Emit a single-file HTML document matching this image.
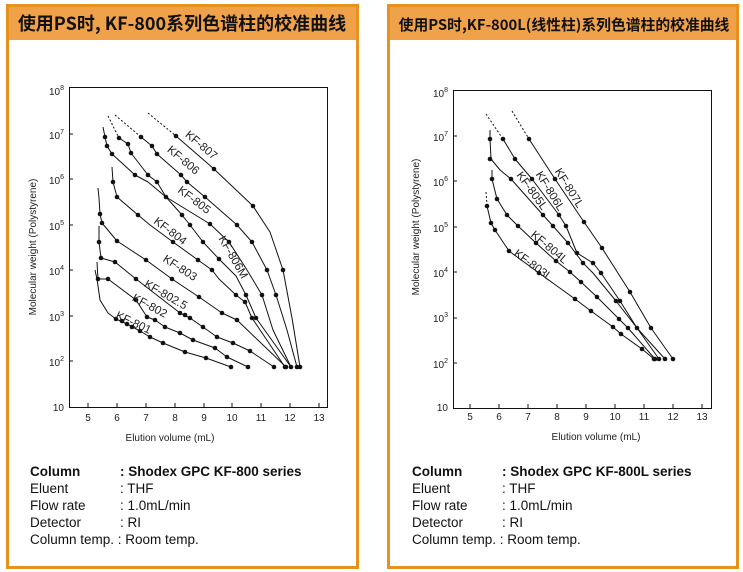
<!DOCTYPE html>
<html><head><meta charset="utf-8"><style>
html,body{margin:0;padding:0;background:#fff;}
svg{display:block;font-family:"Liberation Sans","Noto Sans CJK SC",sans-serif;}
</style></head><body>
<svg width="743" height="572" viewBox="0 0 743 572" xmlns="http://www.w3.org/2000/svg">
<defs><style>
.c{fill:none;stroke:#111;stroke-width:1;stroke-linejoin:round;}
.d{fill:none;stroke:#111;stroke-width:1;stroke-dasharray:2,2;}
.t{font-size:10px;fill:#222;}
.lb{font-size:11.5px;fill:#222;}
.tx{font-size:13.5px;fill:#111;}
</style></defs>
<!-- panels -->
<rect x="7.5" y="5.5" width="350" height="562" fill="#fff" stroke="#e8921e" stroke-width="3"/>
<rect x="9" y="7" width="347" height="33" fill="#f0a24a"/>
<text x="182" y="30" text-anchor="middle" font-size="18" font-weight="bold" fill="#111" font-family="'Noto Sans CJK SC','Liberation Sans',sans-serif">使用PS时, KF-800系列色谱柱的校准曲线</text>
<rect x="388.5" y="5.5" width="349" height="562" fill="#fff" stroke="#e8921e" stroke-width="3"/>
<rect x="390" y="7" width="346" height="33" fill="#f0a24a"/>
<text x="564" y="30" text-anchor="middle" font-size="14.8" font-weight="bold" fill="#111" font-family="'Noto Sans CJK SC','Liberation Sans',sans-serif">使用PS时,KF-800L(线性柱)系列色谱柱的校准曲线</text>

<!-- LEFT PLOT -->
<rect x="69.5" y="87.5" width="258" height="320" fill="none" stroke="#111" stroke-width="1"/>
<g class="t" text-anchor="end">
<text x="64" y="95">10<tspan font-size="7" dy="-5">8</tspan></text>
<text x="64" y="139">10<tspan font-size="7" dy="-5">7</tspan></text>
<text x="64" y="184">10<tspan font-size="7" dy="-5">6</tspan></text>
<text x="64" y="230">10<tspan font-size="7" dy="-5">5</tspan></text>
<text x="64" y="275">10<tspan font-size="7" dy="-5">4</tspan></text>
<text x="64" y="321">10<tspan font-size="7" dy="-5">3</tspan></text>
<text x="64" y="366">10<tspan font-size="7" dy="-5">2</tspan></text>
<text x="64" y="411">10</text>
</g>
<g stroke="#111">
<line x1="69" y1="134" x2="73" y2="134"/><line x1="69" y1="179" x2="73" y2="179"/><line x1="69" y1="225" x2="73" y2="225"/><line x1="69" y1="270" x2="73" y2="270"/><line x1="69" y1="316" x2="73" y2="316"/><line x1="69" y1="361" x2="73" y2="361"/>
<line x1="88" y1="407" x2="88" y2="403"/><line x1="117" y1="407" x2="117" y2="403"/><line x1="146" y1="407" x2="146" y2="403"/><line x1="175" y1="407" x2="175" y2="403"/><line x1="204" y1="407" x2="204" y2="403"/><line x1="232" y1="407" x2="232" y2="403"/><line x1="261" y1="407" x2="261" y2="403"/><line x1="290" y1="407" x2="290" y2="403"/><line x1="319" y1="407" x2="319" y2="403"/>
</g>
<g class="t" text-anchor="middle">
<text x="88" y="421">5</text><text x="117" y="421">6</text><text x="146" y="421">7</text><text x="175" y="421">8</text><text x="204" y="421">9</text><text x="232" y="421">10</text><text x="261" y="421">11</text><text x="290" y="421">12</text><text x="319" y="421">13</text>
<text x="170" y="441">Elution volume (mL)</text>
<text transform="translate(36,247) rotate(-90)">Molecular weight (Polystyrene)</text>
</g>
<g>
<path class="d" d="M148,113 L176,136"/>
<path class="c" d="M176,136 L214,169 L253,206 L270,232 L283,270 L292,318 L300,367"/>
<path class="d" d="M115,115 L141,137"/>
<path class="c" d="M141,137 L152,146 L157,154 L181,175 L187,182 L205,197 L237,225 L252,242 L267,270 L276,295 L287,330 L297,367"/>
<path class="d" d="M108,116 L119,138"/>
<path class="c" d="M119,138 L128,144 L131,153 L148,175 L157,182 L166,197 L182,215 L190,225 L203,242 L219,259 L236,276 L246,295 L256,318 L291,367"/>
<path class="c" d="M103,127 L105,137 L107,146 L112,154 L135,175 L148,182 L166,197 L210,224 L229,242 L247,270 L262,295 L273,330 L291,367"/>
<path class="c" d="M112,167 L113,182 L117,197 L138,215 L150,225 L173,242 L198,260 L212,270 L219,279 L236,295 L245,302 L252,318 L285,367"/>
<path class="c" d="M98,188 L99,198 L100,214 L102,223 L117,241 L146,260 L172,279 L199,297 L222,313 L237,320 L286,367"/>
<path class="c" d="M99,226 L99,242 L101,258 L115,262 L136,279 L180,313 L190,318 L203,327 L217,337 L233,343 L250,351 L274,367"/>
<path class="c" d="M97,262 L98,279 L108,279 L136,300 L147,317 L155,320 L165,327 L180,333 L193,340 L215,348 L227,357 L248,367"/>
<path class="c" d="M95,270 L97,279 L100,300 L108,313 L116,319 L127,324 L140,331 L150,337 L163,343 L185,352 L206,358 L231,367"/>
</g>
<g fill="#111">
<circle cx="176" cy="136" r="2.3"/><circle cx="214" cy="169" r="2.3"/><circle cx="253" cy="206" r="2.3"/><circle cx="283" cy="270" r="2.3"/><circle cx="300" cy="367" r="2.3"/>
<circle cx="141" cy="137" r="2.3"/><circle cx="152" cy="146" r="2.3"/><circle cx="157" cy="154" r="2.3"/><circle cx="181" cy="175" r="2.3"/><circle cx="187" cy="182" r="2.3"/><circle cx="205" cy="197" r="2.3"/><circle cx="237" cy="225" r="2.3"/><circle cx="252" cy="242" r="2.3"/><circle cx="267" cy="270" r="2.3"/><circle cx="276" cy="295" r="2.3"/><circle cx="297" cy="367" r="2.3"/>
<circle cx="119" cy="138" r="2.3"/><circle cx="128" cy="144" r="2.3"/><circle cx="131" cy="153" r="2.3"/><circle cx="148" cy="175" r="2.3"/><circle cx="157" cy="182" r="2.3"/><circle cx="166" cy="197" r="2.3"/><circle cx="182" cy="215" r="2.3"/><circle cx="190" cy="225" r="2.3"/><circle cx="203" cy="242" r="2.3"/><circle cx="219" cy="259" r="2.3"/><circle cx="246" cy="295" r="2.3"/><circle cx="256" cy="318" r="2.3"/><circle cx="291" cy="367" r="2.3"/>
<circle cx="105" cy="137" r="2.3"/><circle cx="107" cy="146" r="2.3"/><circle cx="112" cy="154" r="2.3"/><circle cx="135" cy="175" r="2.3"/><circle cx="210" cy="224" r="2.3"/><circle cx="229" cy="242" r="2.3"/><circle cx="262" cy="295" r="2.3"/>
<circle cx="113" cy="182" r="2.3"/><circle cx="117" cy="197" r="2.3"/><circle cx="138" cy="215" r="2.3"/><circle cx="173" cy="242" r="2.3"/><circle cx="198" cy="260" r="2.3"/><circle cx="212" cy="270" r="2.3"/><circle cx="236" cy="295" r="2.3"/><circle cx="245" cy="302" r="2.3"/><circle cx="252" cy="318" r="2.3"/><circle cx="285" cy="367" r="2.3"/>
<circle cx="100" cy="214" r="2.3"/><circle cx="102" cy="223" r="2.3"/><circle cx="117" cy="241" r="2.3"/><circle cx="146" cy="260" r="2.3"/><circle cx="172" cy="279" r="2.3"/><circle cx="199" cy="297" r="2.3"/><circle cx="222" cy="313" r="2.3"/><circle cx="237" cy="320" r="2.3"/><circle cx="286" cy="367" r="2.3"/>
<circle cx="99" cy="242" r="2.3"/><circle cx="101" cy="258" r="2.3"/><circle cx="115" cy="262" r="2.3"/><circle cx="136" cy="279" r="2.3"/><circle cx="180" cy="313" r="2.3"/><circle cx="185" cy="315" r="2.3"/><circle cx="190" cy="318" r="2.3"/><circle cx="203" cy="327" r="2.3"/><circle cx="217" cy="337" r="2.3"/><circle cx="233" cy="343" r="2.3"/><circle cx="250" cy="351" r="2.3"/><circle cx="274" cy="367" r="2.3"/>
<circle cx="98" cy="279" r="2.3"/><circle cx="108" cy="279" r="2.3"/><circle cx="136" cy="300" r="2.3"/><circle cx="147" cy="317" r="2.3"/><circle cx="155" cy="320" r="2.3"/><circle cx="165" cy="327" r="2.3"/><circle cx="180" cy="333" r="2.3"/><circle cx="193" cy="340" r="2.3"/><circle cx="215" cy="348" r="2.3"/><circle cx="227" cy="357" r="2.3"/><circle cx="248" cy="367" r="2.3"/>
<circle cx="116" cy="319" r="2.3"/><circle cx="122" cy="321" r="2.3"/><circle cx="127" cy="324" r="2.3"/><circle cx="132" cy="327" r="2.3"/><circle cx="140" cy="331" r="2.3"/><circle cx="150" cy="337" r="2.3"/><circle cx="163" cy="343" r="2.3"/><circle cx="185" cy="352" r="2.3"/><circle cx="206" cy="358" r="2.3"/><circle cx="231" cy="367" r="2.3"/>
</g>
<g class="lb" text-anchor="middle">
<text transform="translate(199,148) rotate(40)">KF-807</text>
<text transform="translate(181,163) rotate(40)">KF-806</text>
<text transform="translate(192,203) rotate(37)">KF-805</text>
<text transform="translate(168,234) rotate(37)">KF-804</text>
<text transform="translate(230,259) rotate(60)">KF-806M</text>
<text transform="translate(178,271) rotate(33)">KF-803</text>
<text transform="translate(164,298) rotate(30)">KF-802.5</text>
<text transform="translate(148,309) rotate(28)">KF-802</text>
<text transform="translate(132,326) rotate(25)">KF-801</text>
</g>
<g class="tx">
<text x="30" y="476" font-weight="bold">Column</text><text x="120" y="476" font-weight="bold">: Shodex GPC KF-800 series</text>
<text x="30" y="493">Eluent</text><text x="120" y="493">: THF</text>
<text x="30" y="510">Flow rate</text><text x="120" y="510">: 1.0mL/min</text>
<text x="30" y="527">Detector</text><text x="120" y="527">: RI</text>
<text x="30" y="544">Column temp. : Room temp.</text>
</g>

<!-- RIGHT PLOT -->
<rect x="453.5" y="90.5" width="258" height="318" fill="none" stroke="#111" stroke-width="1"/>
<g class="t" text-anchor="end">
<text x="448" y="97">10<tspan font-size="7" dy="-5">8</tspan></text>
<text x="448" y="141">10<tspan font-size="7" dy="-5">7</tspan></text>
<text x="448" y="186">10<tspan font-size="7" dy="-5">6</tspan></text>
<text x="448" y="232">10<tspan font-size="7" dy="-5">5</tspan></text>
<text x="448" y="277">10<tspan font-size="7" dy="-5">4</tspan></text>
<text x="448" y="322">10<tspan font-size="7" dy="-5">3</tspan></text>
<text x="448" y="368">10<tspan font-size="7" dy="-5">2</tspan></text>
<text x="448" y="411">10</text>
</g>
<g stroke="#111">
<line x1="453" y1="136" x2="457" y2="136"/><line x1="453" y1="181" x2="457" y2="181"/><line x1="453" y1="227" x2="457" y2="227"/><line x1="453" y1="272" x2="457" y2="272"/><line x1="453" y1="318" x2="457" y2="318"/><line x1="453" y1="363" x2="457" y2="363"/>
<line x1="470" y1="408" x2="470" y2="404"/><line x1="499" y1="408" x2="499" y2="404"/><line x1="528" y1="408" x2="528" y2="404"/><line x1="557" y1="408" x2="557" y2="404"/><line x1="586" y1="408" x2="586" y2="404"/><line x1="615" y1="408" x2="615" y2="404"/><line x1="644" y1="408" x2="644" y2="404"/><line x1="673" y1="408" x2="673" y2="404"/><line x1="702" y1="408" x2="702" y2="404"/>
</g>
<g class="t" text-anchor="middle">
<text x="470" y="420">5</text><text x="499" y="420">6</text><text x="528" y="420">7</text><text x="557" y="420">8</text><text x="586" y="420">9</text><text x="615" y="420">10</text><text x="644" y="420">11</text><text x="673" y="420">12</text><text x="702" y="420">13</text>
<text x="596" y="440">Elution volume (mL)</text>
<text transform="translate(419,227) rotate(-90)">Molecular weight (Polystyrene)</text>
</g>
<g>
<path class="d" d="M512,111 L529,139"/>
<path class="c" d="M529,139 L555,179 L584,222 L602,248 L630,292 L651,328 L673,359"/>
<path class="d" d="M486,114 L503,139"/>
<path class="c" d="M503,139 L515,159 L532,179 L559,215 L566,226 L577,253 L593,263 L601,273 L620,301 L637,328 L665,359"/>
<path class="c" d="M490,130 L490,139 L491,159 L500,170 L511,179 L543,215 L553,226 L568,243 L583,263 L593,273 L616,301 L637,328 L659,359"/>
<path class="c" d="M492,170 L492,179 L497,199 L507,215 L518,226 L536,243 L556,261 L570,272 L581,282 L597,297 L619,319 L628,328 L655,359"/>
<path class="d" d="M486,192 L487,204"/>
<path class="c" d="M487,204 L487,206 L491,223 L495,230 L509,251 L539,273 L575,299 L591,311 L613,327 L621,334 L642,349 L654,359"/>
</g>
<g fill="#111">
<circle cx="529" cy="139" r="2.3"/><circle cx="555" cy="179" r="2.3"/><circle cx="584" cy="222" r="2.3"/><circle cx="602" cy="248" r="2.3"/><circle cx="630" cy="292" r="2.3"/><circle cx="651" cy="328" r="2.3"/><circle cx="673" cy="359" r="2.3"/>
<circle cx="503" cy="139" r="2.3"/><circle cx="515" cy="159" r="2.3"/><circle cx="532" cy="179" r="2.3"/><circle cx="559" cy="215" r="2.3"/><circle cx="566" cy="226" r="2.3"/><circle cx="577" cy="253" r="2.3"/><circle cx="593" cy="263" r="2.3"/><circle cx="601" cy="273" r="2.3"/><circle cx="620" cy="301" r="2.3"/><circle cx="637" cy="328" r="2.3"/><circle cx="665" cy="359" r="2.3"/>
<circle cx="490" cy="139" r="2.3"/><circle cx="490" cy="159" r="2.3"/><circle cx="511" cy="179" r="2.3"/><circle cx="543" cy="215" r="2.3"/><circle cx="553" cy="226" r="2.3"/><circle cx="568" cy="243" r="2.3"/><circle cx="583" cy="263" r="2.3"/><circle cx="616" cy="301" r="2.3"/><circle cx="659" cy="359" r="2.3"/>
<circle cx="492" cy="179" r="2.3"/><circle cx="497" cy="199" r="2.3"/><circle cx="507" cy="215" r="2.3"/><circle cx="518" cy="226" r="2.3"/><circle cx="536" cy="243" r="2.3"/><circle cx="556" cy="261" r="2.3"/><circle cx="570" cy="272" r="2.3"/><circle cx="581" cy="282" r="2.3"/><circle cx="597" cy="297" r="2.3"/><circle cx="619" cy="319" r="2.3"/><circle cx="628" cy="328" r="2.3"/><circle cx="655" cy="359" r="2.3"/>
<circle cx="487" cy="206" r="2.3"/><circle cx="491" cy="223" r="2.3"/><circle cx="495" cy="230" r="2.3"/><circle cx="509" cy="251" r="2.3"/><circle cx="539" cy="273" r="2.3"/><circle cx="575" cy="299" r="2.3"/><circle cx="591" cy="311" r="2.3"/><circle cx="613" cy="327" r="2.3"/><circle cx="621" cy="334" r="2.3"/><circle cx="642" cy="349" r="2.3"/><circle cx="654" cy="359" r="2.3"/>
</g>
<g class="lb" text-anchor="middle">
<text transform="translate(566,190) rotate(58)">KF-807L</text>
<text transform="translate(547,193) rotate(58)">KF-806L</text>
<text transform="translate(529,193) rotate(54)">KF-805L</text>
<text transform="translate(547,250) rotate(40)">KF-804L</text>
<text transform="translate(531,268) rotate(36)">KF-803L</text>
</g>
<g class="tx">
<text x="412" y="476" font-weight="bold">Column</text><text x="502" y="476" font-weight="bold">: Shodex GPC KF-800L series</text>
<text x="412" y="493">Eluent</text><text x="502" y="493">: THF</text>
<text x="412" y="510">Flow rate</text><text x="502" y="510">: 1.0mL/min</text>
<text x="412" y="527">Detector</text><text x="502" y="527">: RI</text>
<text x="412" y="544">Column temp. : Room temp.</text>
</g>
</svg>
</body></html>
